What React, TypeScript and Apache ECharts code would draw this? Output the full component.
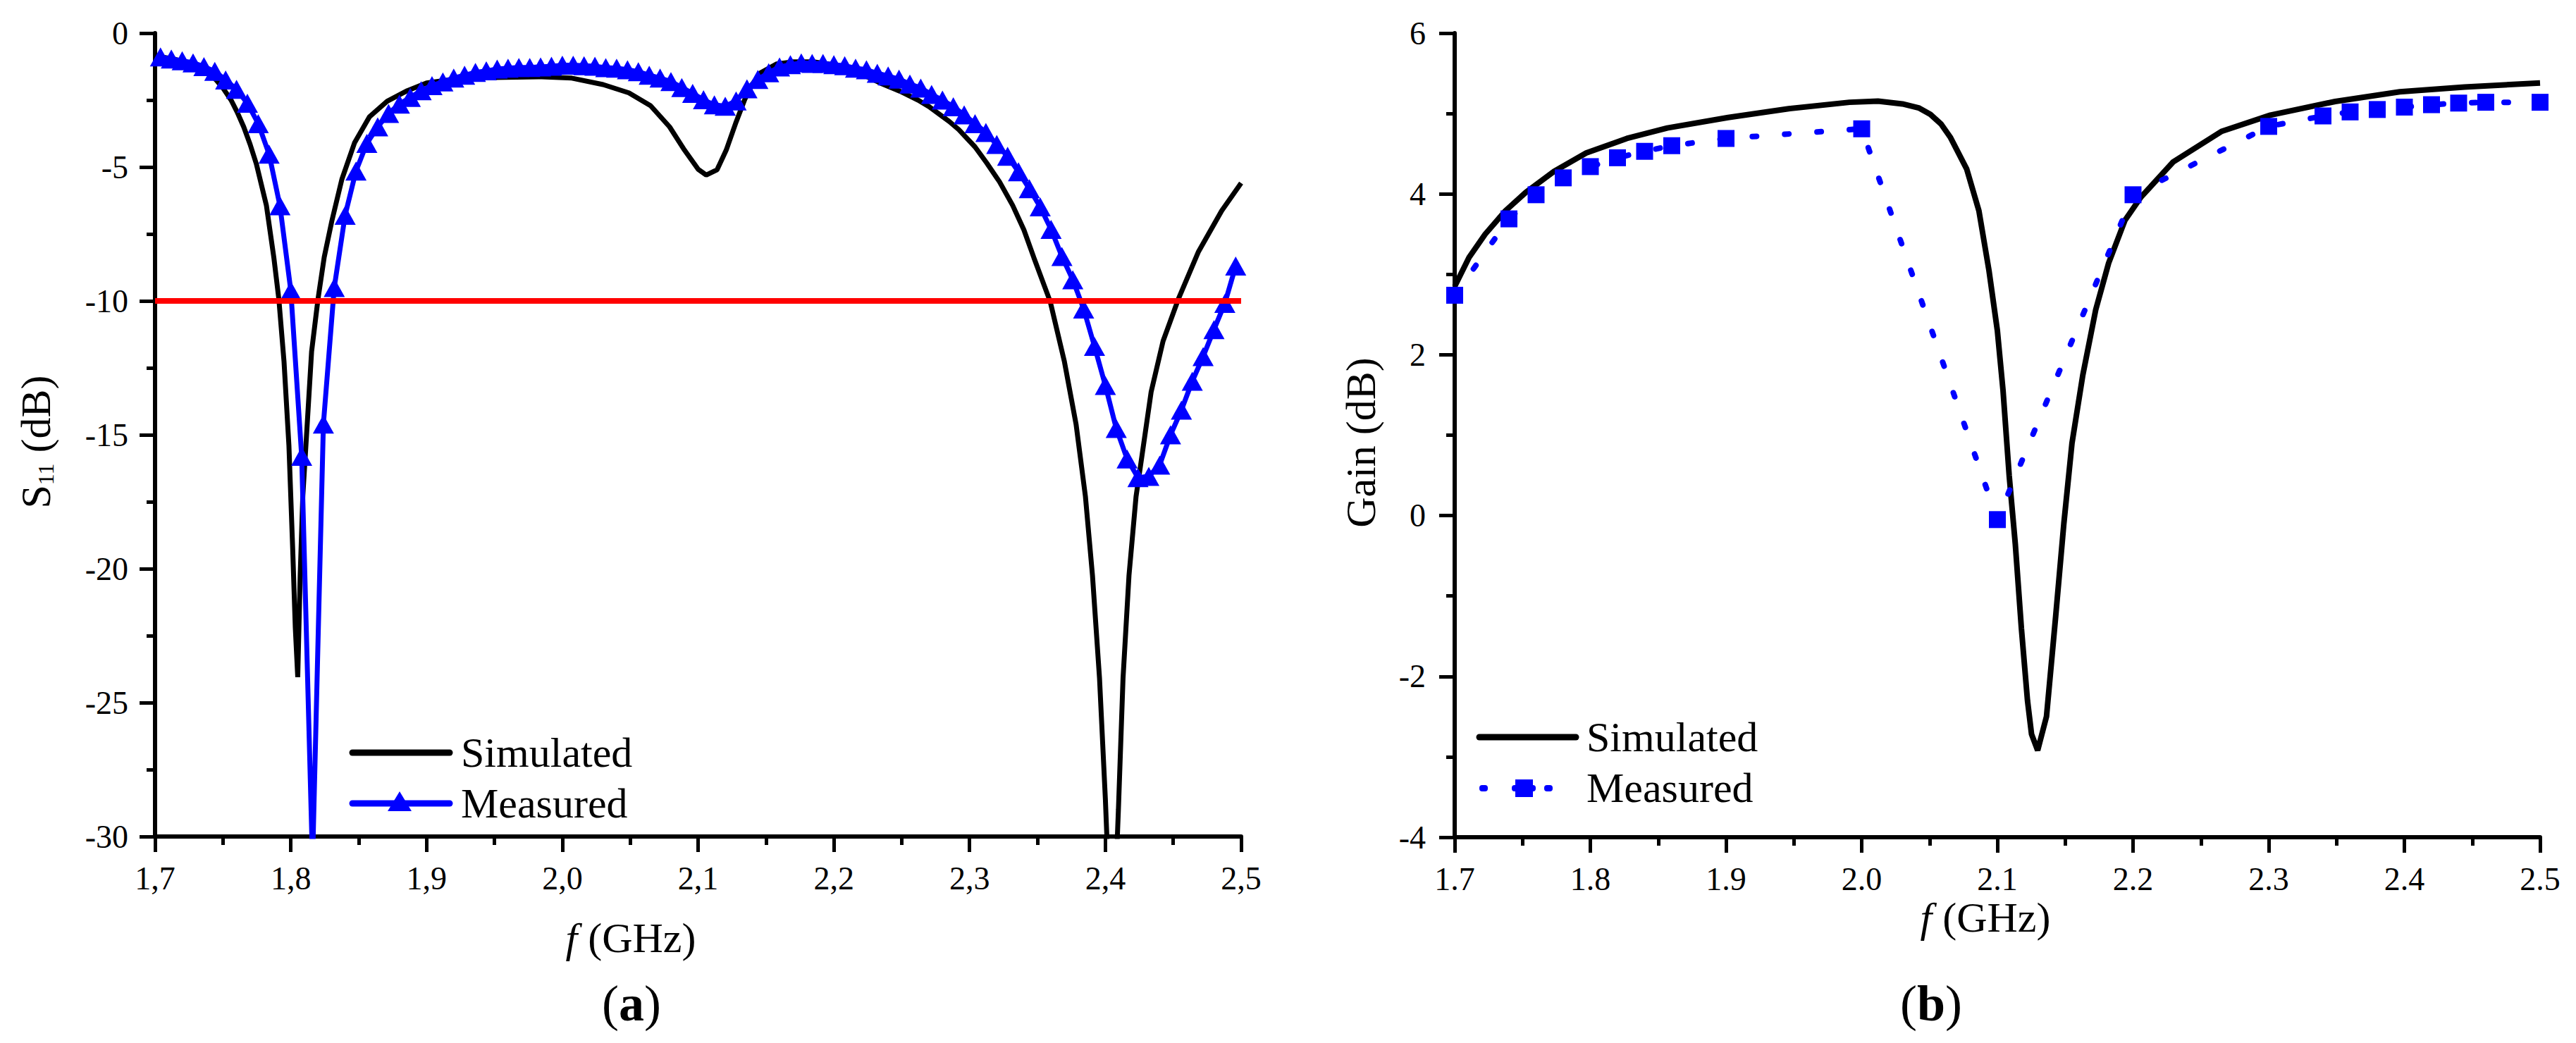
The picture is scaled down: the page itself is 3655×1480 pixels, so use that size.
import React, { useEffect, useRef } from 'react';
import * as echarts from 'echarts';

const FONT = 'Liberation Serif, Times New Roman, serif';

// ---------- Panel (a): S11 ----------
const s11Simulated: [number, number][] = [
  [1.700, -0.85], [1.715, -0.98], [1.730, -1.22], [1.740, -1.50], [1.745, -1.75], [1.750, -2.05],
  [1.756, -2.50], [1.7605, -2.95], [1.7653, -3.50], [1.770, -4.15], [1.7746, -4.88], [1.782, -6.43],
  [1.7875, -8.38], [1.7912, -9.94], [1.795, -12.27], [1.7986, -15.4], [1.8014, -19.28], [1.8033, -22.2],
  [1.8051, -24.05], [1.8069, -20.25], [1.8088, -17.33], [1.8116, -15.0], [1.8153, -11.9], [1.820, -9.94],
  [1.8246, -8.37], [1.8302, -7.02], [1.8376, -5.46], [1.8469, -4.10], [1.858, -3.12], [1.871, -2.54],
  [1.8858, -2.15], [1.900, -1.86], [1.920, -1.72], [1.950, -1.66], [1.985, -1.63], [2.007, -1.68],
  [2.030, -1.92], [2.049, -2.23], [2.065, -2.71], [2.079, -3.50], [2.090, -4.37], [2.100, -5.08],
  [2.106, -5.30], [2.114, -5.10], [2.1207, -4.37], [2.128, -3.32], [2.1346, -2.45], [2.140, -1.90],
  [2.146, -1.48], [2.158, -1.15], [2.170, -1.07], [2.185, -1.07], [2.200, -1.18], [2.215, -1.40],
  [2.234, -1.86], [2.250, -2.20], [2.262, -2.50], [2.270, -2.74], [2.285, -3.30], [2.292, -3.60],
  [2.304, -4.25], [2.3126, -4.85], [2.322, -5.55], [2.3317, -6.43], [2.340, -7.35], [2.3473, -8.38],
  [2.3594, -10.03], [2.3698, -12.26], [2.3784, -14.6], [2.3853, -17.3], [2.3905, -20.25], [2.3957, -24.1],
  [2.400, -28.6], [2.405, -35.0], [2.4096, -29.0], [2.413, -24.1], [2.4174, -20.25], [2.4226, -17.3],
  [2.4269, -15.8], [2.4337, -13.4], [2.4425, -11.5], [2.4537, -9.94], [2.4684, -8.18], [2.4857, -6.63],
  [2.500, -5.60],
];

const s11Measured: [number, number][] = [
  [1.704, -0.89], [1.712, -0.97], [1.720, -1.03], [1.728, -1.11], [1.736, -1.25], [1.744, -1.43],
  [1.752, -1.75], [1.760, -2.10], [1.768, -2.62], [1.776, -3.38], [1.784, -4.52], [1.792, -6.45],
  [1.800, -9.62], [1.808, -15.8], [1.816, -31.0], [1.824, -14.6], [1.832, -9.50], [1.840, -6.80],
  [1.848, -5.15], [1.856, -4.12], [1.864, -3.50], [1.872, -3.00], [1.880, -2.65], [1.888, -2.40],
  [1.896, -2.15], [1.904, -1.96], [1.912, -1.82], [1.920, -1.68], [1.928, -1.57], [1.936, -1.47],
  [1.944, -1.41], [1.952, -1.34], [1.960, -1.31], [1.968, -1.28], [1.976, -1.28], [1.984, -1.26],
  [1.992, -1.24], [2.000, -1.20], [2.008, -1.20], [2.016, -1.22], [2.024, -1.24], [2.032, -1.29],
  [2.040, -1.31], [2.048, -1.37], [2.056, -1.44], [2.064, -1.57], [2.072, -1.68], [2.080, -1.81],
  [2.088, -2.03], [2.096, -2.25], [2.104, -2.49], [2.112, -2.68], [2.120, -2.73], [2.128, -2.53],
  [2.136, -2.08], [2.144, -1.73], [2.152, -1.48], [2.160, -1.26], [2.168, -1.18], [2.176, -1.11],
  [2.184, -1.13], [2.192, -1.13], [2.200, -1.18], [2.208, -1.22], [2.216, -1.31], [2.224, -1.37],
  [2.232, -1.50], [2.240, -1.60], [2.248, -1.72], [2.256, -1.90], [2.264, -2.05], [2.272, -2.29],
  [2.280, -2.50], [2.288, -2.75], [2.296, -3.05], [2.304, -3.38], [2.312, -3.71], [2.320, -4.16],
  [2.328, -4.60], [2.336, -5.18], [2.344, -5.81], [2.352, -6.49], [2.360, -7.33], [2.368, -8.34],
  [2.376, -9.21], [2.384, -10.3], [2.392, -11.7], [2.400, -13.16], [2.408, -14.76], [2.416, -15.9],
  [2.424, -16.6], [2.432, -16.55], [2.440, -16.13], [2.448, -15.0], [2.456, -14.08], [2.464, -13.0],
  [2.472, -12.08], [2.480, -11.07], [2.488, -10.09], [2.496, -8.70],
];

const s11Threshold: [number, number][] = [[1.7, -10], [2.5, -10]];

// ---------- Panel (b): Gain ----------
const gainSimulated: [number, number][] = [
  [1.700, 2.85], [1.7106, 3.21], [1.7225, 3.50], [1.7374, 3.79], [1.7524, 4.02], [1.7732, 4.28],
  [1.797, 4.51], [1.8269, 4.69], [1.8567, 4.82], [1.9015, 4.95], [1.9462, 5.06], [1.991, 5.14],
  [2.012, 5.155], [2.030, 5.12], [2.042, 5.07], [2.0506, 4.99], [2.0585, 4.87], [2.0655, 4.70],
  [2.0774, 4.31], [2.0864, 3.79], [2.0938, 3.05], [2.100, 2.30], [2.1042, 1.55], [2.1087, 0.50],
  [2.1132, -0.35], [2.1177, -1.40], [2.1222, -2.30], [2.1252, -2.72], [2.1297, -2.92], [2.1362, -2.50],
  [2.143, -1.25], [2.149, -0.10], [2.155, 0.90], [2.163, 1.75], [2.1725, 2.56], [2.182, 3.14],
  [2.194, 3.67], [2.2058, 3.96], [2.2297, 4.40], [2.2655, 4.78], [2.3012, 4.98], [2.349, 5.15],
  [2.3966, 5.27], [2.4443, 5.33], [2.500, 5.38],
];

const gainMeasured: [number, number][] = [
  [1.70, 2.74], [1.74, 3.69], [1.76, 3.99], [1.78, 4.20], [1.80, 4.34], [1.82, 4.45], [1.84, 4.53],
  [1.86, 4.60], [1.90, 4.69], [2.00, 4.81], [2.10, -0.05], [2.20, 3.99], [2.30, 4.84], [2.34, 4.97],
  [2.36, 5.02], [2.38, 5.05], [2.40, 5.08], [2.42, 5.11], [2.44, 5.13], [2.46, 5.14], [2.50, 5.14],
];

const freqRange = { min: 1.7, max: 2.5, interval: 0.1 };
const s11Range = { min: -30, max: 0, interval: 5 };
const gainRange = { min: -4, max: 6, interval: 2 };

const BLACK = '#000000';
const BLUE = '#0000FF';
const RED = '#FF0000';

function xAxis(gridIndex: number, fmt: (v: number) => string) {
  return {
    type: 'value',
    gridIndex,
    min: freqRange.min,
    max: freqRange.max,
    interval: freqRange.interval,
    axisLine: { show: true, onZero: false, lineStyle: { color: BLACK, width: 6 } },
    axisTick: { show: true, length: 22, lineStyle: { color: BLACK, width: 5 } },
    minorTick: { show: true, splitNumber: 2, length: 12, lineStyle: { color: BLACK, width: 5 } },
    splitLine: { show: false },
    minorSplitLine: { show: false },
    axisLabel: { formatter: fmt, fontFamily: FONT, fontSize: 46, color: BLACK, margin: 36 },
  };
}

function yAxis(gridIndex: number, r: { min: number; max: number; interval: number }, margin: number) {
  return {
    type: 'value',
    gridIndex,
    min: r.min,
    max: r.max,
    interval: r.interval,
    axisLine: { show: true, onZero: false, lineStyle: { color: BLACK, width: 6 } },
    axisTick: { show: true, length: 22, lineStyle: { color: BLACK, width: 5 } },
    minorTick: { show: true, splitNumber: 2, length: 12, lineStyle: { color: BLACK, width: 5 } },
    splitLine: { show: false },
    minorSplitLine: { show: false },
    axisLabel: { formatter: (v: number) => String(v), fontFamily: FONT, fontSize: 46, color: BLACK, margin },
  };
}

function txt(x: number, y: number, text: string, size: number, extra: any = {}) {
  return {
    type: 'text',
    x,
    y,
    style: {
      text,
      fontFamily: FONT,
      fontSize: size,
      fill: BLACK,
      align: 'left',
      verticalAlign: 'middle',
      ...extra,
    },
  };
}

export default function App() {
  const ref = useRef<HTMLDivElement>(null);

  useEffect(() => {
    document.body.style.margin = '0';
    const chart = echarts.init(ref.current as HTMLDivElement, null, { renderer: 'svg' });

    const option: any = {
      animation: false,
      backgroundColor: '#ffffff',
      textStyle: { fontFamily: FONT },
      grid: [
        { left: 220, top: 47, width: 1541, height: 1140 },
        { left: 2064, top: 47, width: 1540, height: 1141 },
      ],
      xAxis: [
        xAxis(0, (v: number) => v.toFixed(1).replace('.', ',')),
        xAxis(1, (v: number) => v.toFixed(1)),
      ],
      yAxis: [yAxis(0, s11Range, 38), yAxis(1, gainRange, 41)],
      series: [
        {
          name: 'Simulated',
          type: 'line',
          xAxisIndex: 0,
          yAxisIndex: 0,
          data: s11Simulated,
          symbol: 'none',
          lineStyle: { color: BLACK, width: 7 },
          itemStyle: { color: BLACK },
          z: 2,
        },
        {
          name: 'Measured',
          type: 'line',
          xAxisIndex: 0,
          yAxisIndex: 0,
          data: s11Measured,
          symbol: 'triangle',
          symbolSize: [30, 27],
          showAllSymbol: true,
          lineStyle: { color: BLUE, width: 7 },
          itemStyle: { color: BLUE },
          z: 3,
        },
        {
          name: '-10 dB',
          type: 'line',
          xAxisIndex: 0,
          yAxisIndex: 0,
          data: s11Threshold,
          symbol: 'none',
          lineStyle: { color: RED, width: 8 },
          z: 4,
        },
        {
          name: 'Simulated gain',
          type: 'line',
          xAxisIndex: 1,
          yAxisIndex: 1,
          data: gainSimulated,
          symbol: 'none',
          lineStyle: { color: BLACK, width: 8 },
          itemStyle: { color: BLACK },
          z: 2,
        },
        {
          name: 'Measured gain',
          type: 'line',
          xAxisIndex: 1,
          yAxisIndex: 1,
          data: gainMeasured,
          symbol: 'rect',
          symbolSize: 24,
          showAllSymbol: true,
          lineStyle: { color: BLUE, width: 8, type: [6, 40], cap: 'round' },
          itemStyle: { color: BLUE },
          z: 3,
        },
      ],
      graphic: {
        elements: [
          // legend (a)
          { type: 'line', shape: { x1: 500, y1: 1068, x2: 638, y2: 1068 }, style: { stroke: BLACK, lineWidth: 9, lineCap: 'round' } },
          txt(654, 1068, 'Simulated', 60),
          { type: 'line', shape: { x1: 500, y1: 1140, x2: 638, y2: 1140 }, style: { stroke: BLUE, lineWidth: 9, lineCap: 'round' } },
          { type: 'polygon', shape: { points: [[567, 1123], [584, 1151], [550, 1151]] }, style: { fill: BLUE } },
          txt(654, 1140, 'Measured', 60),
          // legend (b)
          { type: 'line', shape: { x1: 2099, y1: 1046, x2: 2236, y2: 1046 }, style: { stroke: BLACK, lineWidth: 9, lineCap: 'round' } },
          txt(2251, 1046, 'Simulated', 60),
          { type: 'rect', shape: { x: 2099, y: 1114, width: 12, height: 9, r: 4 }, style: { fill: BLUE } },
          { type: 'rect', shape: { x: 2145, y: 1114, width: 34, height: 9, r: 4 }, style: { fill: BLUE } },
          { type: 'rect', shape: { x: 2150, y: 1106, width: 25, height: 25 }, style: { fill: BLUE } },
          { type: 'rect', shape: { x: 2191, y: 1114, width: 12, height: 9, r: 4 }, style: { fill: BLUE } },
          txt(2251, 1118, 'Measured', 60),
          // axis titles
          txt(895, 1331, '{i|f} (GHz)', 60, { align: 'center', rich: { i: { fontStyle: 'italic', fontFamily: FONT, fontSize: 60 } } }),
          txt(2817, 1302, '{i|f} (GHz)', 60, { align: 'center', rich: { i: { fontStyle: 'italic', fontFamily: FONT, fontSize: 60 } } }),
          {
            type: 'text',
            x: 51,
            y: 627,
            rotation: Math.PI / 2,
            style: {
              text: '{n|S}{sub|11}{n| (dB)}',
              fontFamily: FONT,
              fontSize: 60,
              fill: BLACK,
              align: 'center',
              verticalAlign: 'middle',
              rich: {
                n: { fontFamily: FONT, fontSize: 60, lineHeight: 60 },
                sub: { fontFamily: FONT, fontSize: 32, lineHeight: 20, verticalAlign: 'bottom' },
              },
            },
          },
          {
            type: 'text',
            x: 1931,
            y: 628,
            rotation: Math.PI / 2,
            style: { text: 'Gain (dB)', fontFamily: FONT, fontSize: 60, fill: BLACK, align: 'center', verticalAlign: 'middle' },
          },
          // panel captions
          txt(896, 1424, '{p|(}{b|a}{p|)}', 72, {
            align: 'center',
            rich: { p: { fontFamily: FONT, fontSize: 72 }, b: { fontFamily: FONT, fontSize: 72, fontWeight: 'bold' } },
          }),
          txt(2740, 1424, '{p|(}{b|b}{p|)}', 72, {
            align: 'center',
            rich: { p: { fontFamily: FONT, fontSize: 72 }, b: { fontFamily: FONT, fontSize: 72, fontWeight: 'bold' } },
          }),
        ],
      },
    };

    chart.setOption(option);
    return () => chart.dispose();
  }, []);

  return (
    <div
      ref={ref}
      style={{ position: 'absolute', left: 0, top: 0, width: 3655, height: 1480, background: '#ffffff' }}
    />
  );
}
